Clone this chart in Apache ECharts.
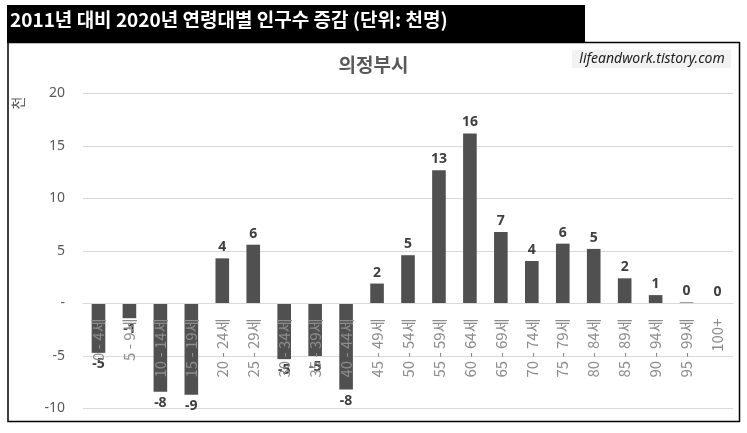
<!DOCTYPE html>
<html>
<head>
<meta charset="utf-8">
<script src="https://cdn.jsdelivr.net/npm/echarts@6/dist/echarts.min.js"></script>
<style>
  html, body { margin: 0; padding: 0; background: #fff; }
  #pic1 { width: 747px; height: 433px; }
</style>
</head>
<body>
<div id="pic1"></div>
<script>
// 연령대 (x축)
var ageGroups = ['0 - 4세', '5 - 9세', '10 - 14세', '15 - 19세', '20 - 24세', '25 - 29세',
    '30 - 34세', '35 - 39세', '40 - 44세', '45 - 49세', '50 - 54세', '55 - 59세',
    '60 - 64세', '65 - 69세', '70 - 74세', '75 - 79세', '80 - 84세', '85 - 89세',
    '90 - 94세', '95 - 99세', '100+'];
// 2011 -> 2020 증감 (천명)
var changeValues = [-4.7, -1.4, -8.4, -8.7, 4.3, 5.6, -5.3, -5.0, -8.2, 1.9, 4.6, 12.7,
    16.2, 6.8, 4.05, 5.7, 5.2, 2.4, 0.8, 0.1, 0];
var yTicks = { min: -10, max: 20, step: 5 };

var gridTop = 93.5, gridBottom = 24.5;
var plotH = 433 - gridTop - gridBottom;
// 0 선까지의 거리 (x축 라벨을 0 위치에 붙이기 위해)
var zeroOffset = plotH * (0 - yTicks.min) / (yTicks.max - yTicks.min);

var barData = changeValues.map(function (v) {
    return {
        value: v,
        label: { position: v < 0 ? 'bottom' : 'top' }
    };
});

var myChart = echarts.init(document.getElementById('pic1'), null, { renderer: 'canvas' });

var option = {
    backgroundColor: '#fff',
    animation: false,
    textStyle: { fontFamily: 'Noto Sans CJK KR' },
    graphic: [
        {   // 바깥 테두리
            type: 'rect',
            shape: { x: 8, y: 42.5, width: 731.5, height: 379 },
            style: { fill: 'none', stroke: '#000', lineWidth: 1.5 },
            z: 1
        },
        {   // 제목 띠
            type: 'rect',
            shape: { x: 7, y: 5, width: 578, height: 38 },
            style: { fill: '#000' },
            z: 2
        },
        {
            type: 'text',
            left: 10, top: 10,
            style: {
                text: '2011년 대비 2020년 연령대별 인구수 증감 (단위: 천명)',
                fill: '#fff',
                font: 'bold 19px "Noto Sans CJK KR"'
            },
            z: 3
        },
        {   // 워터마크
            type: 'rect',
            shape: { x: 572, y: 50, width: 159, height: 18 },
            style: { fill: '#f2f2f2' },
            z: 2
        },
        {
            type: 'text',
            x: 652, y: 59,
            style: {
                text: 'lifeandwork.tistory.com',
                fill: '#222',
                font: 'italic 14px "Noto Sans"',
                align: 'center',
                verticalAlign: 'middle'
            },
            z: 3
        },
        {   // 세로축 단위
            type: 'text',
            x: 18, y: 103,
            rotation: Math.PI / 2,
            style: {
                text: '천',
                fill: '#595959',
                font: '14px "Noto Sans CJK KR"',
                align: 'center',
                verticalAlign: 'middle'
            },
            z: 3
        }
    ],
    title: {
        text: '의정부시',
        left: 'center',
        top: 50,
        textStyle: {
            color: '#595959',
            fontSize: 19,
            fontWeight: 'bold',
            fontFamily: 'Noto Sans CJK KR'
        }
    },
    grid: {
        left: 83,
        right: 14,
        top: gridTop,
        bottom: gridBottom,
        containLabel: false,
        outerBoundsMode: 'none'
    },
    xAxis: {
        type: 'category',
        data: ageGroups,
        offset: -zeroOffset,
        axisLine: { show: true, onZero: false, lineStyle: { color: '#d9d9d9', width: 1 } },
        axisTick: { show: false },
        axisLabel: {
            rotate: 90,
            interval: 0,
            margin: 15,
            color: '#8c8c8c',
            fontSize: 15,
            fontFamily: 'Noto Sans CJK KR'
        },
        z: 3
    },
    yAxis: {
        type: 'value',
        min: yTicks.min,
        max: yTicks.max,
        interval: yTicks.step,
        axisLine: { show: false },
        axisTick: { show: false },
        splitLine: { lineStyle: { color: '#d9d9d9', width: 1 } },
        axisLabel: {
            margin: 18,
            color: '#595959',
            fontSize: 14,
            fontFamily: 'Noto Sans',
            formatter: function (v) { return v === 0 ? '-' : String(v); }
        }
    },
    series: [
        {
            type: 'bar',
            data: barData,
            barWidth: '44%',
            itemStyle: { color: '#505050' },
            label: {
                show: true,
                distance: 4,
                color: '#404040',
                fontSize: 14,
                fontWeight: 'bold',
                fontFamily: 'Noto Sans',
                formatter: function (p) { return String(Math.round(p.value)); }
            },
            z: 2
        }
    ]
};

myChart.setOption(option);
</script>
</body>
</html>
